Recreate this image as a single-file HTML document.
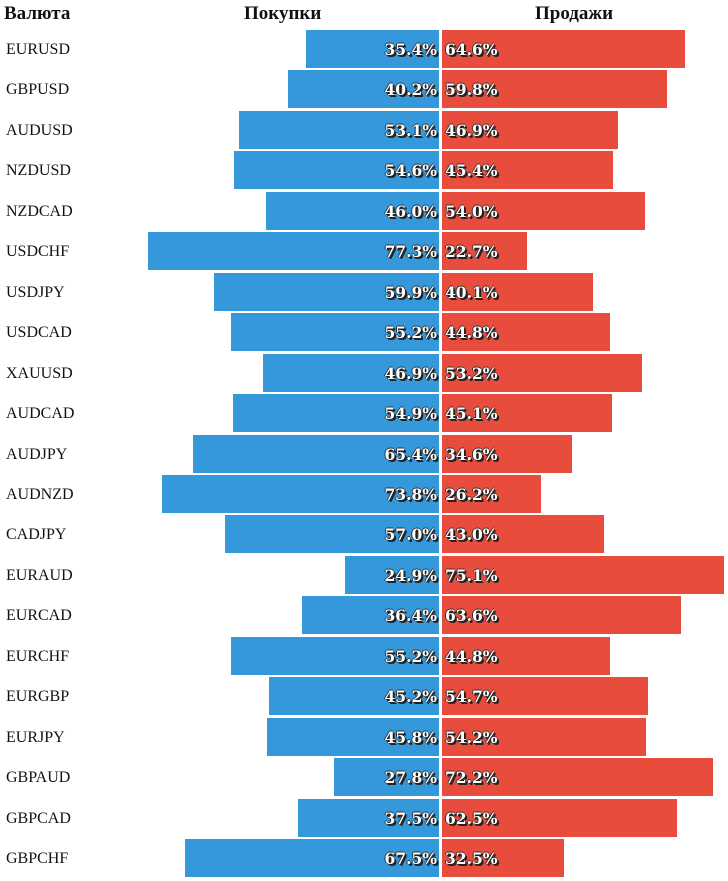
<!DOCTYPE html>
<html><head><meta charset="utf-8"><style>
body{margin:0;background:#fff;width:728px;height:881px;overflow:hidden;position:relative;font-family:"Liberation Serif",serif}
.h{position:absolute;top:3px;font-weight:bold;font-size:19px;color:#111}
.lbl{position:absolute;left:6px;font-size:16px;color:#111}
.bar{position:absolute;height:38px}
.v{position:absolute;font-family:"DejaVu Serif",serif;font-weight:bold;font-size:15.5px;color:#fff;text-shadow:1px 1px 0 #222,2px 2px 0 #222,-1px 0 0 #333,0 -1px 0 #333;line-height:38px}
</style></head><body>
<div class="h" style="left:4px">Валюта</div>
<div class="h" style="left:244px">Покупки</div>
<div class="h" style="left:535px">Продажи</div>
<div id="c"></div>
<script>
const pairs=["EURUSD","GBPUSD","AUDUSD","NZDUSD","NZDCAD","USDCHF","USDJPY","USDCAD","XAUUSD","AUDCAD","AUDJPY","AUDNZD","CADJPY","EURAUD","EURCAD","EURCHF","EURGBP","EURJPY","GBPAUD","GBPCAD","GBPCHF"];
const buys=[35.4,40.2,53.1,54.6,46.0,77.3,59.9,55.2,46.9,54.9,65.4,73.8,57.0,24.9,36.4,55.2,45.2,45.8,27.8,37.5,67.5];
const sells=[64.6,59.8,46.9,45.4,54.0,22.7,40.1,44.8,53.2,45.1,34.6,26.2,43.0,75.1,63.6,44.8,54.7,54.2,72.2,62.5,32.5];
const c=document.getElementById('c');
const k=3.76, cx=440, top0=30, pitch=40.45;
pairs.forEach((p,i)=>{
  const y=top0+i*pitch;
  const l=document.createElement('div');l.className='lbl';l.style.top=(y+11)+'px';l.textContent=p;
  
  
  c.appendChild(l);
  const bw=buys[i]*k;
  const b=document.createElement('div');b.className='bar';b.style.cssText=`left:${cx-1-bw}px;top:${y}px;width:${bw}px;background:#3498db`;
  
  
  c.appendChild(b);
  const sw=sells[i]*k;
  const s=document.createElement('div');s.className='bar';s.style.cssText=`left:${cx+2}px;top:${y}px;width:${sw}px;background:#e74c3c`;
  
  
  c.appendChild(s);
  const bv=document.createElement('div');bv.className='v';bv.style.cssText=`right:${728-cx+3}px;top:${y+1}px`;bv.textContent=buys[i].toFixed(1)+'%';
  
  
  c.appendChild(bv);
  const sv=document.createElement('div');sv.className='v';sv.style.cssText=`left:${cx+5}px;top:${y+1}px`;sv.textContent=sells[i].toFixed(1)+'%';
  
  
  c.appendChild(sv);
});
</script>
</body></html>
